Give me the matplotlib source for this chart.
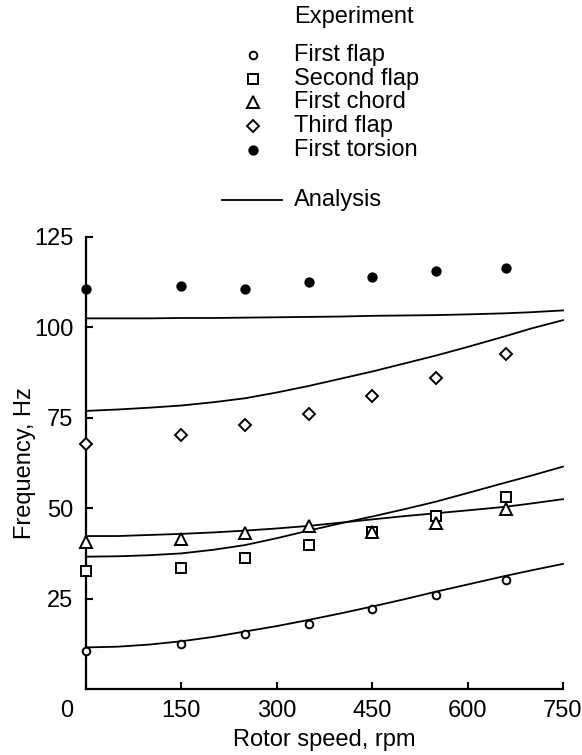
import numpy as np
import matplotlib
matplotlib.use('Agg')
import matplotlib.pyplot as plt
from matplotlib.lines import Line2D
from matplotlib.transforms import ScaledTranslation

plt.rcParams['font.family'] = ['Liberation Sans', 'DejaVu Sans']

# experiment
rpm = [0, 150, 250, 350, 450, 550, 660]
first_flap = [10.5, 12.4, 15.1, 18.0, 22.0, 26.1, 30.1]
second_flap = [32.7, 33.4, 36.3, 39.7, 43.5, 47.8, 53.0]
first_chord = [40.7, 41.4, 43.1, 45.1, 43.5, 46.0, 49.7]
third_flap = [67.8, 70.2, 72.9, 76.0, 81.0, 86.1, 92.6]
first_torsion = [110.5, 111.5, 110.5, 112.6, 113.9, 115.6, 116.3]

# analysis
rpm_an = [0, 50, 100, 150, 200, 250, 300, 350, 400, 450, 500, 550, 600, 660, 700, 750]
an_first_flap = [11.5, 11.7, 12.3, 13.2, 14.4, 15.9, 17.4, 19.1, 20.9, 22.8, 24.8, 26.9, 28.9, 31.3, 32.8, 34.6]
an_second_flap = [36.6, 36.7, 37.0, 37.5, 38.5, 39.8, 41.7, 43.8, 45.8, 47.7, 49.7, 51.8, 54.2, 57.1, 59.0, 61.5]
an_first_chord = [42.3, 42.3, 42.6, 42.9, 43.3, 43.8, 44.4, 45.1, 46.0, 46.9, 47.8, 48.6, 49.4, 50.4, 51.3, 52.5]
an_third_flap = [76.9, 77.3, 77.8, 78.4, 79.3, 80.4, 82.0, 83.8, 85.8, 87.8, 90.0, 92.2, 94.6, 97.6, 99.7, 102.0]
an_first_torsion = [102.5, 102.5, 102.5, 102.6, 102.6, 102.7, 102.8, 102.9, 103.0, 103.2, 103.3, 103.4, 103.6, 103.9, 104.2, 104.7]

fs = 17
lw = 1.3
mew = 1.4

fig = plt.figure(figsize=(5.82, 7.55), dpi=100)
ax = fig.add_axes([86/582, 66/755, 477/582, 452/755])

for yy in [an_first_flap, an_second_flap, an_first_chord, an_third_flap, an_first_torsion]:
    ax.plot(rpm_an, yy, color='black', linewidth=lw, clip_on=False, zorder=2)

mk = dict(linestyle='none', color='black', markeredgewidth=mew, clip_on=False, zorder=3)
ax.plot(rpm, first_flap, marker='o', markersize=5.5, markerfacecolor='white', **mk)
ax.plot(rpm, second_flap, marker='s', markersize=7, markerfacecolor='white', **mk)
ax.plot(rpm, first_chord, marker='^', markersize=8, markerfacecolor='white', **mk)
ax.plot(rpm, third_flap, marker='D', markersize=6.5, markerfacecolor='white', **mk)
ax.plot(rpm, first_torsion, marker='o', markersize=6, markerfacecolor='black', **mk)

ax.set_xlim(0, 750)
ax.set_ylim(0, 125)
ax.set_xticks([0, 150, 300, 450, 600, 750])
ax.set_yticks([25, 50, 75, 100, 125])
for s in ['top', 'right']:
    ax.spines[s].set_visible(False)
for s in ['left', 'bottom']:
    ax.spines[s].set_linewidth(1.6)
ax.tick_params(direction='in', length=5, width=1.5, labelsize=fs)
ax.tick_params(axis='x', pad=8)
ax.tick_params(axis='y', pad=9)
# the "0" sits left of the corner
lab0 = ax.get_xticklabels()[0]
lab0.set_transform(lab0.get_transform() + ScaledTranslation(-19/100, 0, fig.dpi_scale_trans))

ax.set_xlabel('Rotor speed, rpm', fontsize=fs, va='center')
ax.xaxis.set_label_coords(0.5, -0.113)
ax.set_ylabel('Frequency, Hz', fontsize=fs, va='center')
ax.yaxis.set_label_coords(-0.128, 0.5)

# legend drawn by hand above the axes
W, H = 582, 755
def fx(p): return p / W
def fy(p): return 1 - p / H

fig.text(fx(294), fy(17), 'Experiment', fontsize=fs, va='center', ha='left')
leg = [('First flap', 'o', 'white', 5.5), ('Second flap', 's', 'white', 7),
       ('First chord', '^', 'white', 8), ('Third flap', 'D', 'white', 6.5),
       ('First torsion', 'o', 'black', 6)]
ys = [55, 79, 102, 126, 150]
for (name, m, fc, ms), yp in zip(leg, ys):
    fig.add_artist(Line2D([fx(253)], [fy(yp)], marker=m, markersize=ms, color='black',
                          markerfacecolor=fc, markeredgewidth=mew, transform=fig.transFigure))
    fig.text(fx(294), fy(yp), name, fontsize=fs, va='center', ha='left')
fig.add_artist(Line2D([fx(222), fx(282)], [fy(200), fy(200)], color='black', linewidth=lw,
                      transform=fig.transFigure))
fig.text(fx(294), fy(200), 'Analysis', fontsize=fs, va='center', ha='left')

fig.savefig('out.png', dpi=100)
